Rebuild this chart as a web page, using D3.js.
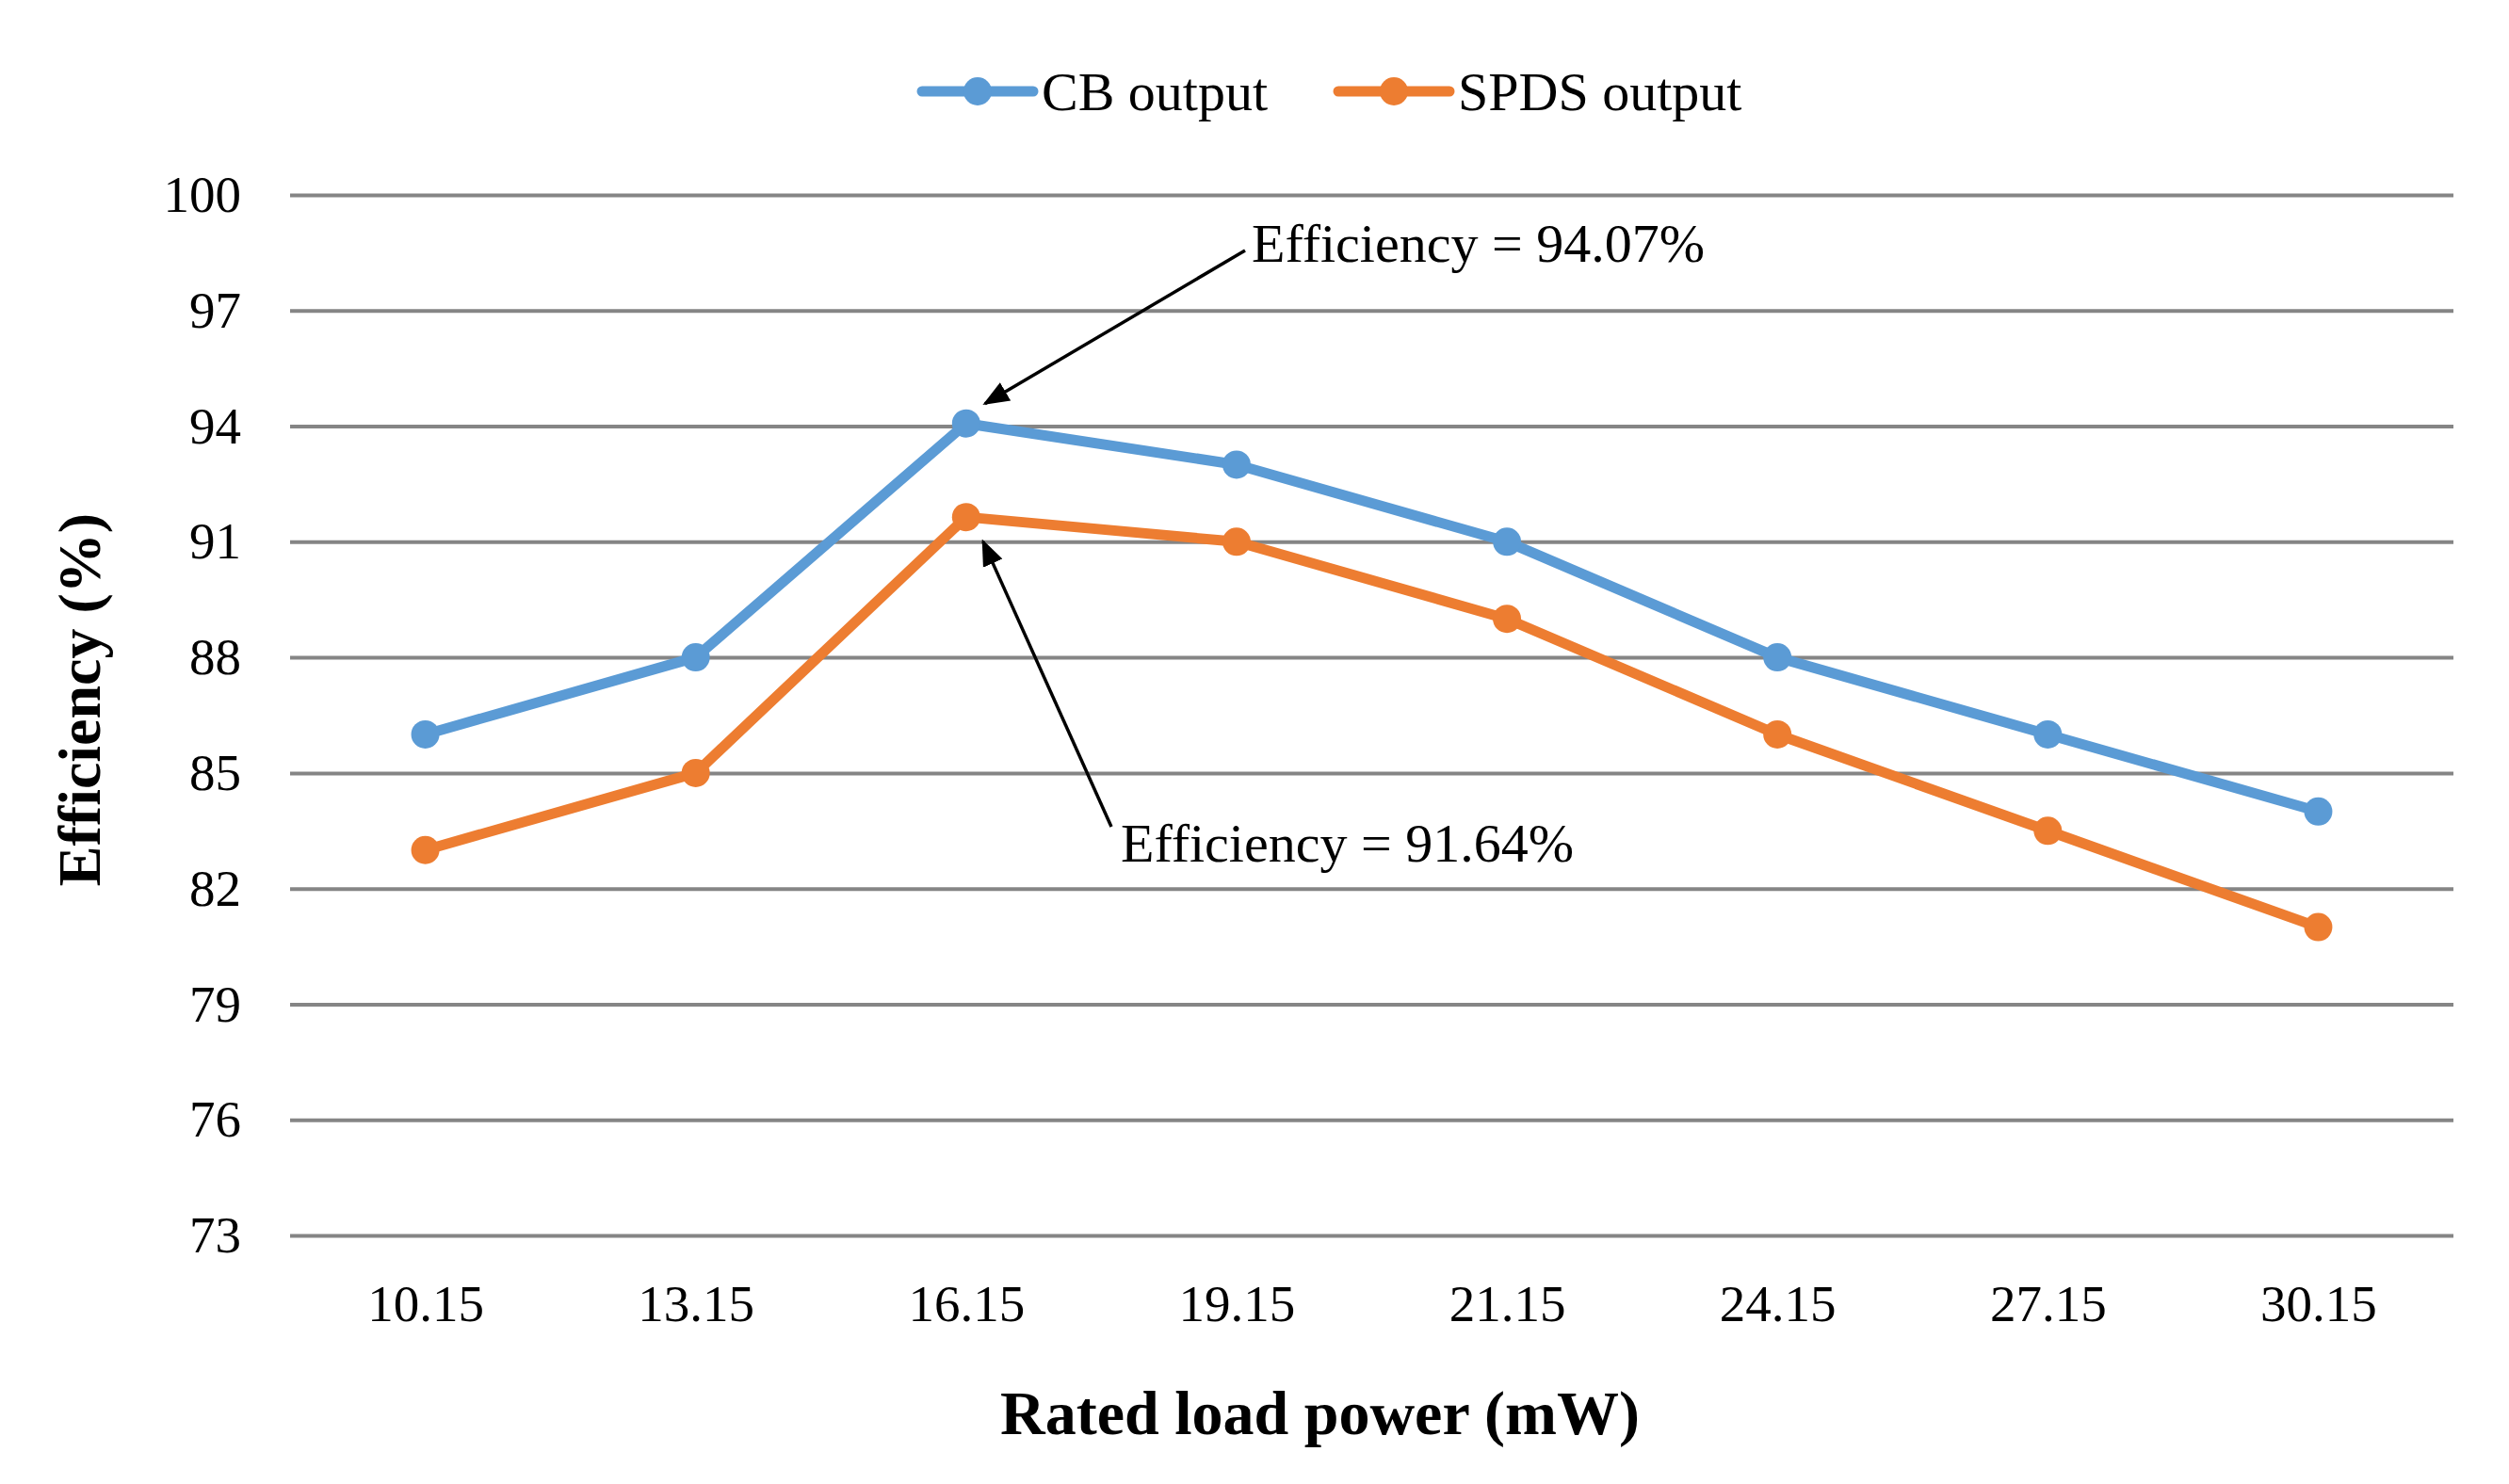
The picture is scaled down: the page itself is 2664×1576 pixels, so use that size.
<!DOCTYPE html>
<html>
<head>
<meta charset="utf-8">
<script src="https://cdn.jsdelivr.net/npm/d3@7"></script>
<style>
  body { margin: 0; background: #fff; }
  text { font-family: "Liberation Serif", "Times New Roman", serif; }
</style>
</head>
<body>
<div id="chart"></div>
<script>
// data
const loadPower = ["10.15","13.15","16.15","19.15","21.15","24.15","27.15","30.15"];
const cbOutput   = [86, 88, 94.07, 93, 91, 88, 86, 84];
const spdsOutput = [83, 85, 91.64, 91, 89, 86, 83.5, 81];
const yTicks = [73, 76, 79, 82, 85, 88, 91, 94, 97, 100];
const seriesNames = ["CB output", "SPDS output"];
const seriesColors = ["#5b9bd5", "#ed7d31"];

const W = 2664, H = 1576;
const margin = {top:207, right:59, bottom:264, left:308};
const width = W - margin.left - margin.right,
      height = H - margin.top - margin.bottom;

const svg = d3.select("#chart").append("svg")
  .attr("width", W).attr("height", H);

svg.append("defs").append("marker")
  .attr("id","arrow").attr("viewBox","0 0 10 10")
  .attr("refX",9).attr("refY",5)
  .attr("markerWidth",8).attr("markerHeight",8)
  .attr("orient","auto")
  .append("path").attr("d","M0,1 L10,5 L0,9 Z").attr("fill","#000");

const g = svg.append("g").attr("transform",`translate(${margin.left},${margin.top})`);

const x = d3.scalePoint().domain(loadPower).range([0,width]).padding(0.5);
const y = d3.scaleLinear().domain([73,100]).range([height,0]);

// y axis + gridlines
const yAxis = g.append("g")
  .call(d3.axisLeft(y).tickValues(yTicks).tickSize(-width).tickPadding(52));
yAxis.select(".domain").remove();
yAxis.selectAll(".tick line").attr("stroke","#858585").attr("stroke-width",4);
yAxis.selectAll(".tick text")
  .attr("x",-52).attr("font-size",55).attr("fill","#000")
  .style("font-family","Liberation Serif");

// x axis labels
const xAxis = g.append("g")
  .attr("transform",`translate(0,${height})`)
  .call(d3.axisBottom(x).tickSize(0).tickPadding(52));
xAxis.select(".domain").remove();
xAxis.selectAll(".tick text")
  .attr("font-size",55).attr("fill","#000")
  .style("font-family","Liberation Serif");

// axis titles
g.append("text")
  .attr("x",width/2 - 55).attr("y",height+211)
  .attr("text-anchor","middle")
  .attr("font-size",66).attr("font-weight","bold")
  .text("Rated load power (mW)");

g.append("text")
  .attr("transform","rotate(-90)")
  .attr("x",-(743-margin.top)).attr("y",-202)
  .attr("text-anchor","middle")
  .attr("font-size",64).attr("font-weight","bold")
  .text("Efficiency (%)");

// lines
const line = d3.line()
  .x((d,i)=>x(loadPower[i]))
  .y(d=>y(d));

[cbOutput, spdsOutput].forEach((vals,k)=>{
  g.append("path")
    .datum(vals)
    .attr("fill","none")
    .attr("stroke",seriesColors[k])
    .attr("stroke-width",11)
    .attr("stroke-linejoin","round")
    .attr("d",line);
  g.selectAll(".pt"+k)
    .data(vals)
    .enter().append("circle")
    .attr("cx",(d,i)=>x(loadPower[i]))
    .attr("cy",d=>y(d))
    .attr("r",15)
    .attr("fill",seriesColors[k]);
});

// annotations
const notes = [
  {text:"Efficiency = 94.07%", idx:2, val:cbOutput[2], tx:1329, ty:278, ax:1322, ay:266, dx:20, dy:-21},
  {text:"Efficiency = 91.64%", idx:2, val:spdsOutput[2], tx:1190, ty:915, ax:1180, ay:878, dx:18, dy:26}
];
notes.forEach(n=>{
  const px = margin.left + x(loadPower[n.idx]) + n.dx,
        py = margin.top + y(n.val) + n.dy;
  svg.append("line")
    .attr("x1",n.ax).attr("y1",n.ay)
    .attr("x2",px).attr("y2",py)
    .attr("stroke","#000").attr("stroke-width",3.5)
    .attr("marker-end","url(#arrow)");
  svg.append("text")
    .attr("x",n.tx).attr("y",n.ty)
    .attr("font-size",58)
    .text(n.text);
});

// legend
const legendX = [979, 1421];
seriesNames.forEach((name,k)=>{
  const lg = svg.append("g").attr("transform",`translate(${legendX[k]},97)`);
  lg.append("line")
    .attr("x1",0).attr("x2",118).attr("y1",0).attr("y2",0)
    .attr("stroke",seriesColors[k]).attr("stroke-width",11)
    .attr("stroke-linecap","round");
  lg.append("circle").attr("cx",59).attr("cy",0).attr("r",15)
    .attr("fill",seriesColors[k]);
  lg.append("text")
    .attr("x",127).attr("y",20)
    .attr("font-size",58)
    .text(name);
});
</script>
</body>
</html>
